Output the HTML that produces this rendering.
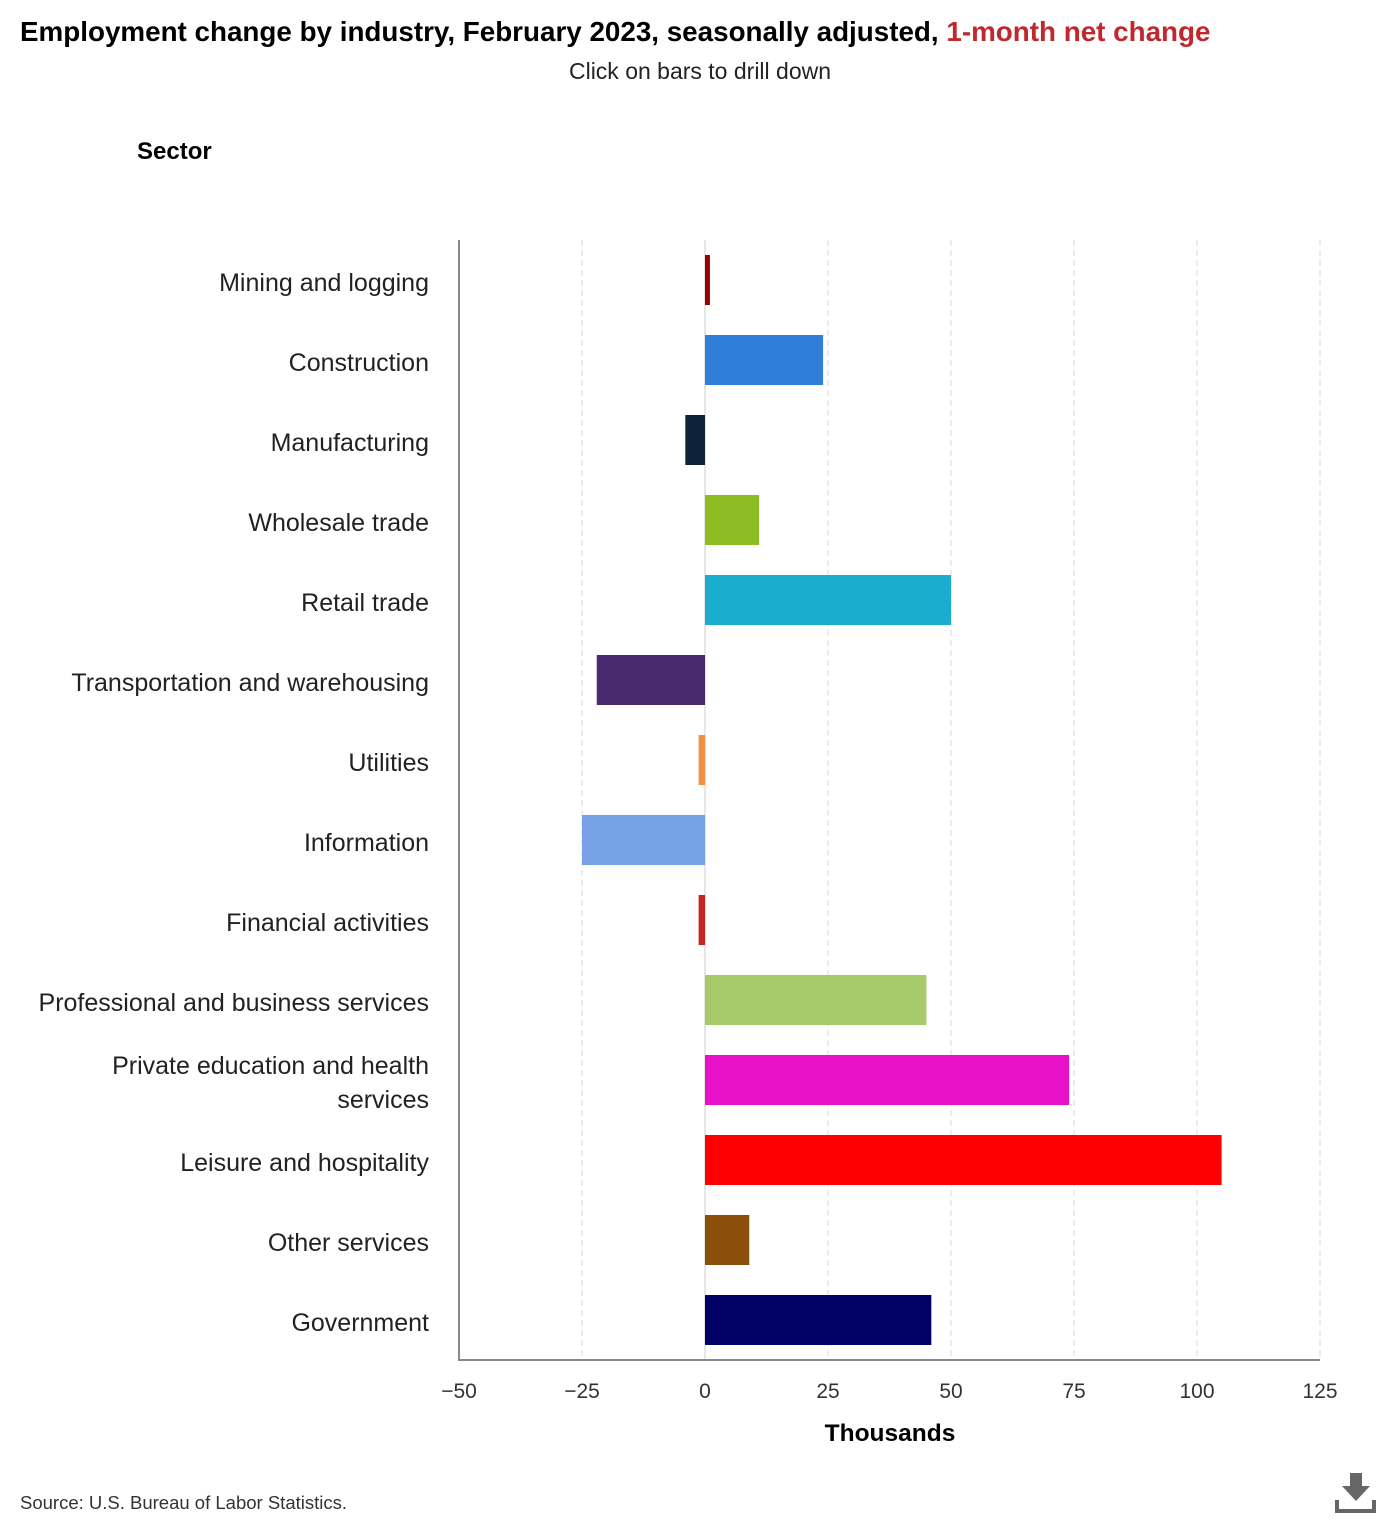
<!DOCTYPE html>
<html><head><meta charset="utf-8">
<style>
html,body{margin:0;padding:0;background:#fff;width:1400px;height:1520px;overflow:hidden;font-family:"Liberation Sans",sans-serif;}
svg text{font-family:"Liberation Sans",sans-serif;}
</style></head>
<body>
<svg id="chart" width="1400" height="1520" xmlns="http://www.w3.org/2000/svg">
<text x="20" y="41" font-size="27.8" font-weight="bold" fill="#000">Employment change by industry, February 2023, seasonally adjusted, <tspan fill="#c0282d">1-month net change</tspan></text>
<text x="700" y="79" font-size="23" text-anchor="middle" fill="#222">Click on bars to drill down</text>
<text x="137" y="159" font-size="24" font-weight="bold" fill="#000">Sector</text>
<text x="890" y="1441" font-size="24.5" font-weight="bold" text-anchor="middle" fill="#000">Thousands</text>
<text x="20" y="1509" font-size="18.5" fill="#333">Source: U.S. Bureau of Labor Statistics.</text>
<g>
<rect x="1330" y="1470" width="50" height="45" fill="transparent"/>
<rect x="1350" y="1473" width="12" height="14" fill="#666"/>
<polygon points="1342,1486 1370,1486 1356,1501" fill="#666"/>
<rect x="1335" y="1509" width="41" height="4" fill="#666"/>
<rect x="1335" y="1500" width="4" height="12" fill="#666"/>
<rect x="1372" y="1500" width="4" height="12" fill="#666"/>
</g>
<g id="grid"></g><g id="bars"></g><g id="labels"></g><g id="ticks"></g>
</svg>
<script>
const categories=["Mining and logging","Construction","Manufacturing","Wholesale trade","Retail trade","Transportation and warehousing","Utilities","Information","Financial activities","Professional and business services","Private education and health|services","Leisure and hospitality","Other services","Government"];
const values=[1,24,-4,11,50,-22,-1.3,-25,-1.3,45,74,105,9,46];
const colors=["#990000","#2f7ed8","#0d233a","#8bbc21","#1aadce","#492970","#f28f43","#77a1e5","#c42525","#a6c96a","#e810c8","#ff0000","#8b4f0b","#000066"];
const ticks=[-50,-25,0,25,50,75,100,125];
const tickLabels=["−50","−25","0","25","50","75","100","125"];
const NS="http://www.w3.org/2000/svg";
const xMin=-50,xMax=125,L=459,R=1320,T=240,B=1360;
const x=v=>L+(v-xMin)/(xMax-xMin)*(R-L);
const band=(B-T)/categories.length;
const y=i=>T+i*band;
function mk(tag,attrs,parent){const e=document.createElementNS(NS,tag);for(const k in attrs)e.setAttribute(k,attrs[k]);document.getElementById(parent).appendChild(e);return e;}
ticks.forEach((t,i)=>{
 if(t!==xMin){const g=mk("line",{x1:x(t),x2:x(t),y1:T,y2:B,stroke:t===0?"#ccc":"#d8d8d8","stroke-dasharray":t===0?"":"6,4","stroke-width":1},"grid");
 
 }
 const tl=mk("text",{x:x(t),y:1398,"font-size":21,"text-anchor":"middle",fill:"#333"},"ticks");
 tl.textContent=tickLabels[i];
 
 
});
const ax=mk("line",{x1:L,x2:L,y1:T,y2:B+1,stroke:"#888","stroke-width":2},"grid");


const bx=mk("line",{x1:L,x2:R,y1:B,y2:B,stroke:"#888","stroke-width":2},"grid");


categories.forEach((c,i)=>{
 const v=values[i];const x0=x(Math.min(0,v)),x1=x(Math.max(0,v));
 const r=mk("rect",{x:x0,y:y(i)+15,width:Math.max(1,x1-x0),height:50,fill:colors[i],style:"cursor:pointer"},"bars");
 
 
 const parts=c.split('|');const cy=y(i)+band/2;
 const t=mk("text",{x:429,"font-size":25,"text-anchor":"end",fill:"#222"},"labels");
 
 
 parts.forEach((p,j)=>{const ts=document.createElementNS(NS,"tspan");ts.setAttribute("x",429);ts.setAttribute("y",cy+11+(j-(parts.length-1)/2)*34);ts.textContent=p;t.appendChild(ts);});
});
</script>
</body></html>
